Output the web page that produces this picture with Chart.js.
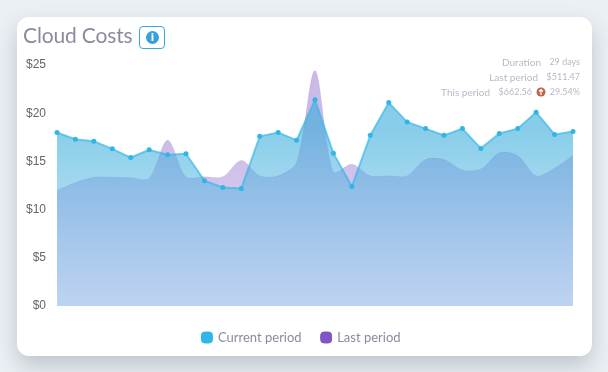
<!DOCTYPE html>
<html>
<head>
<meta charset="utf-8">
<title>Cloud Costs</title>
<script src="https://cdn.jsdelivr.net/npm/chart.js"></script>
<style>
    html, body { margin: 0; padding: 0; width: 608px; height: 372px; overflow: hidden; background: #ebf0f5; }
    #card {
        position: absolute; left: 17px; top: 17px; width: 575px; height: 339px;
        background: #fff; border-radius: 12px;
        box-shadow: 0 10px 22px rgba(50, 60, 70, 0.24);
    }
    #chart-box { position: absolute; left: 0; top: 0; width: 608px; height: 372px; }
    #title {
        position: absolute; left: 23px; top: 21px;
        font: 21px Lato, sans-serif; letter-spacing: -0.15px; color: #8a8b9f; line-height: 28px;
    }
    #info-btn {
        position: absolute; left: 139px; top: 26px; width: 24px; height: 21px;
        border: 1px solid #36a9e6; border-radius: 4px;
    }
    #info-btn span {
        position: absolute; left: 6px; top: 4px; width: 13px; height: 13px; border-radius: 50%;
        background: #36a0dc; color: #fff; font: bold 10px/13px "DejaVu Sans", sans-serif; text-align: center;
    }
    .stat {
        position: absolute; white-space: nowrap; text-align: right;
        font: 10px/14px Lato, sans-serif; color: #b9b9c6;
    }
    .stat.valor { font-size: 9px; }
    #arrow { position: absolute; left: 536px; top: 87px; }
</style>
</head>
<body>
<div id="card"></div>
<div id="chart-box"><canvas id="cost-chart" width="608" height="372"></canvas></div>
<div id="title">Cloud Costs</div>
<div id="info-btn"><span>i</span></div>
<div id="stats"></div>
<svg id="arrow" width="10" height="10" viewBox="0 0 10 10">
    <circle cx="5" cy="5" r="4.5" fill="#c2634b"></circle>
    <path d="M5 8V2.5M3 4.5L5 2.5L7 4.5" stroke="#fff" stroke-width="1.2" fill="none"></path>
</svg>
<script>
    const dias = ['1', '2', '3', '4', '5', '6', '7', '8', '9', '10', '11', '12', '13', '14', '15',
        '16', '17', '18', '19', '20', '21', '22', '23', '24', '25', '26', '27', '28', '29'];
    const periodoActual = [18.0, 17.3, 17.1, 16.3, 15.4, 16.2, 15.7, 15.8, 13.0, 12.3, 12.2, 17.6, 18.0, 17.2, 21.4,
        15.85, 12.4, 17.7, 21.1, 19.1, 18.4, 17.7, 18.4, 16.35, 17.9, 18.4, 20.1, 17.8, 18.1];
    const periodoAnterior = [12.0, 12.8, 13.35, 13.35, 13.3, 13.25, 17.2, 13.4, 13.4, 13.4, 15.1, 13.5, 13.5, 14.9, 24.4,
        13.9, 14.7, 13.5, 13.5, 13.5, 15.2, 15.2, 14.1, 14.2, 15.9, 15.6, 13.5, 14.3, 15.6];
    const etiquetas = ['Current period', 'Last period'];
    const ticksY = [0, 5, 10, 15, 20, 25];
    const textosResumen = ['Duration', 'Last period', 'This period'];
    const valoresResumen = ['29 days', '$511.47', '$662.56', '29.54%'];

    function ponerTexto(texto, derecha, arriba, clase) {
        const el = document.createElement('div');
        el.className = clase;
        el.textContent = texto;
        el.style.right = (608 - derecha) + 'px';
        el.style.top = arriba + 'px';
        document.getElementById('stats').appendChild(el);
    }

    ponerTexto(textosResumen[0], 541, 55, 'stat');
    ponerTexto(textosResumen[1], 538, 70, 'stat');
    ponerTexto(textosResumen[2], 490, 85, 'stat');
    ponerTexto(valoresResumen[0], 580, 55, 'stat valor');
    ponerTexto(valoresResumen[1], 580, 70, 'stat valor');
    ponerTexto(valoresResumen[2], 532, 85, 'stat valor');
    ponerTexto(valoresResumen[3], 580, 85, 'stat valor');

    function gradiente(chart, arriba, abajo) {
        const area = chart.chartArea;
        if (!area) {
            return arriba;
        }
        const g = chart.ctx.createLinearGradient(0, area.top + 65, 0, area.bottom);
        g.addColorStop(0, arriba);
        g.addColorStop(1, abajo);
        return g;
    }

    // La leyenda va centrada en la tarjeta, no en el canvas
    const moverLeyenda = {
        id: 'moverLeyenda',
        afterLayout: function(chart) {
            chart.legend.left += 15;
            chart.legend.right += 15;
        }
    };

    new Chart(document.getElementById('cost-chart').getContext('2d'), {
        type: 'line',
        plugins: [moverLeyenda],
        data: {
            labels: dias,
            datasets: [{
                label: etiquetas[0],
                data: periodoActual,
                borderColor: 'rgba(54, 181, 230, 0.65)',
                borderWidth: 2,
                pointBackgroundColor: '#2fb5e8',
                pointBorderWidth: 0,
                pointRadius: 2.5,
                tension: 0,
                fill: true,
                backgroundColor: function(ctx) {
                    return gradiente(ctx.chart, 'rgba(62, 175, 220, 0.62)', 'rgba(140, 200, 235, 0.4)');
                }
            }, {
                label: etiquetas[1],
                data: periodoAnterior,
                borderColor: 'rgba(126, 87, 194, 0.15)',
                borderWidth: 1,
                pointRadius: 0,
                tension: 0.3,
                fill: true,
                backgroundColor: function(ctx) {
                    return gradiente(ctx.chart, 'rgba(126, 80, 194, 0.4)', 'rgba(126, 110, 215, 0.25)');
                }
            }]
        },
        options: {
            responsive: false,
            animation: false,
            layout: { padding: { left: 0, right: 35, top: 65, bottom: 18 } },
            plugins: {
                tooltip: { enabled: false },
                legend: {
                    position: 'bottom',
                    labels: {
                        usePointStyle: true,
                        pointStyle: 'rectRounded',
                        boxWidth: 9,
                        boxHeight: 9,
                        padding: 20,
                        color: '#8a8b9f',
                        font: { family: 'Lato, sans-serif', size: 13 },
                        generateLabels: function() {
                            return etiquetas.map(function(texto, i) {
                                return {
                                    text: texto,
                                    fontColor: '#8a8b9f',
                                    fillStyle: ['#2fb5e8', '#7e57c2'][i],
                                    strokeStyle: ['#2fb5e8', '#7e57c2'][i],
                                    pointStyle: 'rectRounded',
                                    datasetIndex: i
                                };
                            });
                        }
                    }
                }
            },
            scales: {
                x: {
                    display: true,
                    border: { display: false },
                    grid: { display: false },
                    ticks: { display: false },
                    afterFit: function(escala) { escala.height = 5; }
                },
                y: {
                    min: 0,
                    max: 25,
                    afterFit: function(escala) { escala.width = 57; },
                    afterBuildTicks: function(escala) {
                        escala.ticks = ticksY.map(function(v) { return { value: v }; });
                    },
                    border: { display: false },
                    grid: { display: false },
                    ticks: {
                        padding: 3,
                        color: '#666',
                        font: { family: '"Liberation Sans", Arial, sans-serif', size: 12 },
                        callback: function(v) { return '$' + v; }
                    }
                }
            }
        }
    });
</script>
</body>
</html>
